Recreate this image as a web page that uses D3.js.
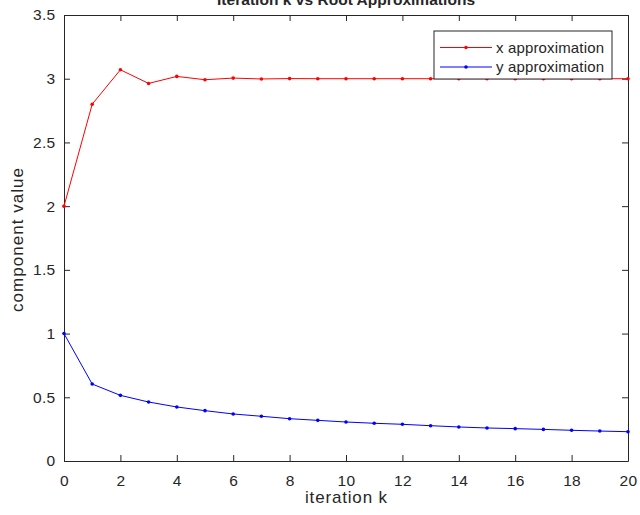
<!doctype html>
<html>
<head>
<meta charset="utf-8">
<script src="https://d3js.org/d3.v7.min.js"></script>
<style>
  body { margin: 0; background: #fff; }
  text { font-family: "Liberation Sans", Arial, sans-serif; fill: #262626; }
</style>
</head>
<body>
<div id="chart"></div>
<script>
// iteration numbers and the two approximations
var iterations = d3.range(0, 21);
var xApprox = [2, 2.8, 3.07, 2.963, 3.018, 2.992, 3.005, 2.998, 3.001, 3, 3, 3, 3, 3, 3, 3, 3, 3, 3, 3, 3];
var yApprox = [1, 0.604, 0.515, 0.463, 0.424, 0.395, 0.369, 0.351, 0.332, 0.319, 0.306,
               0.296, 0.288, 0.277, 0.267, 0.259, 0.254, 0.248, 0.241, 0.235, 0.23];
var xTicks = [0, 2, 4, 6, 8, 10, 12, 14, 16, 18, 20];
var yTicks = [0, 0.5, 1, 1.5, 2, 2.5, 3, 3.5];
var seriesNames = ["x approximation", "y approximation"];
var seriesColors = ["#ff0000", "#0000ff"];

var W = 640, H = 515;
var margin = {top: 15, right: 12, bottom: 54, left: 64};
var width = W - margin.left - margin.right,
    height = H - margin.top - margin.bottom;

var svg = d3.select("#chart").append("svg")
    .attr("width", W)
    .attr("height", H);

var g = svg.append("g")
    .attr("transform", "translate(" + margin.left + "," + margin.top + ")");

var x = d3.scaleLinear().domain([0, 20]).range([0, width]);
var y = d3.scaleLinear().domain([0, 3.5]).range([height, 0]);

// axes (MATLAB style: ticks inward, box on)
function styleAxis(sel) {
    sel.select(".domain").attr("stroke", "#262626").attr("stroke-width", 1);
    sel.selectAll(".tick line").attr("stroke", "#262626");
    sel.selectAll(".tick text")
        .style("font-size", "15.5px")
        .style("letter-spacing", "0.3px")
        .attr("fill", "#262626");
}

var xAxis = g.append("g")
    .attr("transform", "translate(0," + height + ")")
    .call(d3.axisBottom(x).tickValues(xTicks).tickSize(-6).tickSizeOuter(0).tickPadding(14).tickFormat(d3.format("d")));
styleAxis(xAxis);

var yAxis = g.append("g")
    .call(d3.axisLeft(y).tickValues(yTicks).tickSize(-6).tickSizeOuter(0).tickPadding(8.5).tickFormat(function(d) { return d; }));
styleAxis(yAxis);

var topAxis = g.append("g")
    .call(d3.axisTop(x).tickValues(xTicks).tickSize(-6).tickSizeOuter(0).tickFormat(""));
styleAxis(topAxis);

var rightAxis = g.append("g")
    .attr("transform", "translate(" + width + ",0)")
    .call(d3.axisRight(y).tickValues(yTicks).tickSize(-6).tickSizeOuter(0).tickFormat(""));
styleAxis(rightAxis);

// lines
var series = [xApprox, yApprox];
var line = d3.line()
    .x(function(d, i) { return x(iterations[i]); })
    .y(function(d) { return y(d); });

series.forEach(function(vals, s) {
    g.append("path")
        .datum(vals)
        .attr("fill", "none")
        .attr("stroke", seriesColors[s])
        .attr("stroke-width", 1)
        .attr("d", line);
    g.selectAll(".pt" + s)
        .data(vals)
        .enter().append("circle")
        .attr("cx", function(d, i) { return x(iterations[i]); })
        .attr("cy", function(d) { return y(d); })
        .attr("r", 1.8)
        .attr("fill", seriesColors[s]);
});

// title and labels
svg.append("text")
    .attr("x", margin.left + width / 2)
    .attr("y", 5)
    .attr("text-anchor", "middle")
    .attr("textLength", 258)
    .attr("lengthAdjust", "spacing")
    .style("font-size", "15.5px")
    .style("font-weight", "bold")
    .attr("fill", "#000")
    .text("Iteration k vs Root Approximations");

svg.append("text")
    .attr("x", margin.left + width / 2)
    .attr("y", 503)
    .attr("text-anchor", "middle")
    .attr("textLength", 82)
    .attr("lengthAdjust", "spacing")
    .style("font-size", "17px")
    .text("iteration k");

svg.append("text")
    .attr("transform", "translate(23," + (margin.top + height / 2 + 2) + ") rotate(-90)")
    .attr("text-anchor", "middle")
    .attr("textLength", 144)
    .attr("lengthAdjust", "spacing")
    .style("font-size", "17px")
    .text("component value");

// legend
var legend = svg.append("g").attr("transform", "translate(434,31)");
legend.append("rect")
    .attr("width", 178)
    .attr("height", 48)
    .attr("fill", "#fff")
    .attr("stroke", "#262626")
    .attr("stroke-width", 1);

seriesNames.forEach(function(name, s) {
    var ly = 16.5 + s * 19.5;
    legend.append("line")
        .attr("x1", 6).attr("x2", 58)
        .attr("y1", ly).attr("y2", ly)
        .attr("stroke", seriesColors[s])
        .attr("stroke-width", 1);
    legend.append("circle")
        .attr("cx", 32).attr("cy", ly).attr("r", 1.8)
        .attr("fill", seriesColors[s]);
    legend.append("text")
        .attr("x", 62)
        .attr("y", ly)
        .attr("dy", "0.35em")
        .attr("textLength", 108)
        .attr("lengthAdjust", "spacing")
        .style("font-size", "15px")
        .attr("fill", "#000")
        .text(name);
});
</script>
</body>
</html>
